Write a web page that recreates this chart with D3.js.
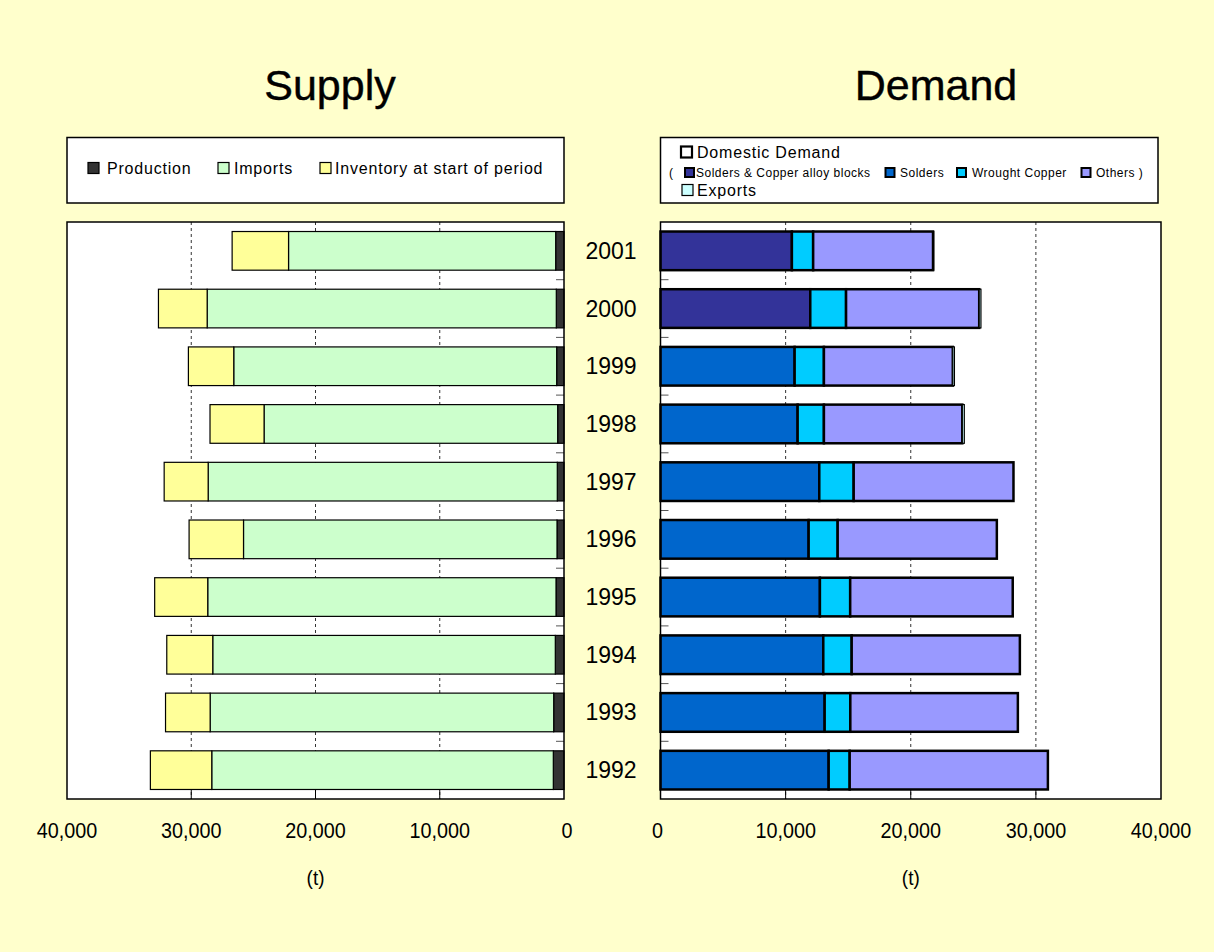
<!DOCTYPE html>
<html>
<head>
<meta charset="utf-8">
<script src="https://cdn.jsdelivr.net/npm/d3@7"></script>
<style>
  body { margin: 0; background: #FFFFCC; }
  svg { display: block; font-family: "Liberation Sans", Arial, sans-serif; }
</style>
</head>
<body>
<svg id="chart" width="1214" height="952"></svg>
<script>
// years, bottom to top
const years = [1992, 1993, 1994, 1995, 1996, 1997, 1998, 1999, 2000, 2001];

// Supply (t)
const production = [860, 830, 700, 644, 564, 540, 510, 590, 620, 670];
const imports    = [27490, 27650, 27570, 28030, 25230, 28100, 23630, 25990, 28100, 21500];
const inventory  = [4940, 3590, 3700, 4270, 4380, 3540, 4350, 3650, 3920, 4540];

// Demand (t)
const blocks  = [0, 0, 0, 0, 0, 0, 0, 0, 11970, 10500];
const solders = [13440, 13120, 13010, 12740, 11840, 12690, 10960, 10720, 0, 0];
const wrought = [1680, 2050, 2270, 2420, 2320, 2750, 2100, 2340, 2860, 1700];
const others  = [15840, 13390, 13440, 12990, 12720, 12770, 11060, 10300, 10640, 9580];
const exportsT = [0, 0, 0, 0, 0, 0, 160, 130, 140, 60];

const ticks = [0, 10000, 20000, 30000, 40000];

const supplyKeys = ["production", "imports", "inventory"];
const demandKeys = ["blocks", "solders", "wrought", "others", "exports"];
const colors = {
  production: "#333333", imports: "#CCFFCC", inventory: "#FFFF99",
  blocks: "#333399", solders: "#0066CC", wrought: "#00CCFF", others: "#9999FF", exports: "#CCFFFF"
};

const rows = years.map((y, i) => ({
  year: y,
  production: production[i], imports: imports[i], inventory: inventory[i],
  blocks: blocks[i], solders: solders[i], wrought: wrought[i], others: others[i], exports: exportsT[i]
}));

const svg = d3.select("#chart");
svg.append("rect").attr("width", 1214).attr("height", 952).attr("fill", "#FFFFCC");

const plotTop = 222, plotBottom = 799;
const y = d3.scaleBand().domain(years.slice().reverse()).range([plotTop, plotBottom]).paddingInner(0.33).paddingOuter(0.165);

const xL = d3.scaleLinear().domain([0, 40000]).range([564, 67]);
const xR = d3.scaleLinear().domain([0, 40000]).range([660.5, 1161]);

// condensed-looking text (like Arial Narrow)
function narrow(sel, x, yy, txt, size) {
  return sel.append("text")
    .attr("transform", `translate(${x},${yy}) scale(0.9,1)`)
    .attr("text-anchor", "middle").attr("font-size", size).text(txt);
}

function panel(x, keys, title, titleX, thick) {
  const g = svg.append("g");
  const [x0, x1] = [Math.min(...x.range()), Math.max(...x.range())];

  g.append("rect").attr("x", x0).attr("y", plotTop).attr("width", x1 - x0).attr("height", plotBottom - plotTop)
    .attr("fill", "#fff");

  // dashed grid
  g.selectAll("line.grid").data([10000, 20000, 30000]).join("line")
    .attr("x1", d => x(d)).attr("x2", d => x(d)).attr("y1", plotTop).attr("y2", plotBottom)
    .attr("stroke", "#333").attr("stroke-dasharray", "3,3");

  // bottom ticks (inward)
  g.selectAll("line.bt").data([10000, 20000, 30000]).join("line")
    .attr("x1", d => x(d)).attr("x2", d => x(d)).attr("y1", plotBottom - 9).attr("y2", plotBottom)
    .attr("stroke", "#000");

  // category ticks at band boundaries on the zero side
  const step = y.step();
  const bounds = d3.range(1, years.length).map(i => plotTop + i * step);
  const dir = x(10000) > x(0) ? 1 : -1;
  g.selectAll("line.ct").data(bounds).join("line")
    .attr("x1", x(0)).attr("x2", x(0) + dir * 8).attr("y1", d => d).attr("y2", d => d)
    .attr("stroke", "#555");

  const stacked = d3.stack().keys(keys)(rows);
  stacked.forEach(layer => {
    const k = layer.key;
    g.append("g").selectAll("rect").data(layer.filter(d => d[1] - d[0] > 0)).join("rect")
      .attr("x", d => Math.min(x(d[0]), x(d[1])))
      .attr("width", d => Math.abs(x(d[1]) - x(d[0])))
      .attr("y", d => y(d.data.year))
      .attr("height", y.bandwidth())
      .attr("fill", colors[k])
      .attr("stroke", "#000")
      .attr("stroke-width", thick && k !== "exports" ? 2.5 : 1.2);
  });

  g.append("rect").attr("x", x0).attr("y", plotTop).attr("width", x1 - x0).attr("height", plotBottom - plotTop)
    .attr("fill", "none").attr("stroke", "#000").attr("stroke-width", 1.5);

  ticks.forEach(d => narrow(g, d === 0 ? x(d) - 3 * dir : x(d), 838, d3.format(",")(d), 22));
  narrow(g, (x0 + x1) / 2, 885, "(t)", 21);

  svg.append("text").attr("x", titleX).attr("y", 100).attr("text-anchor", "middle")
    .attr("font-size", 43).attr("stroke", "#000").attr("stroke-width", 0.4).text(title);
}

panel(xL, supplyKeys, "Supply", 330, false);
panel(xR, demandKeys, "Demand", 936, true);

// year labels
svg.append("g").selectAll("text").data(years).join("text")
  .attr("x", 611).attr("y", d => y(d) + y.bandwidth() / 2 + 8)
  .attr("text-anchor", "middle").attr("font-size", 23)
  .text(d => d);

// legends
function box(x0, x1) {
  svg.append("rect").attr("x", x0).attr("y", 137.5).attr("width", x1 - x0).attr("height", 65.5)
    .attr("fill", "#fff").attr("stroke", "#000").attr("stroke-width", 1.5);
}
function swatch(x, cy, fill, size, sw) {
  svg.append("rect").attr("x", x).attr("y", cy - size / 2).attr("width", size).attr("height", size)
    .attr("fill", fill).attr("stroke", "#000").attr("stroke-width", sw);
}
function label(x, cy, txt, size, ls) {
  svg.append("text").attr("x", x).attr("y", cy + size * 0.36).attr("font-size", size)
    .attr("letter-spacing", ls).text(txt);
}

box(67, 564);
const supLegend = [
  { key: "production", sx: 88, tx: 107, text: "Production" },
  { key: "imports", sx: 218, tx: 234, text: "Imports" },
  { key: "inventory", sx: 320, tx: 335, text: "Inventory at start of period" }
];
supLegend.forEach(d => { swatch(d.sx, 168, colors[d.key], 11, 1.2); label(d.tx, 168, d.text, 16, 0.8); });

box(660.5, 1158);
swatch(681, 152, "#fff", 11, 2.2);
label(697, 152, "Domestic Demand", 16, 0.8);
label(669, 173, "(", 12, 0);
const demLegend = [
  { key: "blocks", sx: 685, tx: 696, text: "Solders & Copper alloy blocks" },
  { key: "solders", sx: 885.5, tx: 900, text: "Solders" },
  { key: "wrought", sx: 957, tx: 972, text: "Wrought Copper" },
  { key: "others", sx: 1081.5, tx: 1096, text: "Others )" }
];
demLegend.forEach(d => { swatch(d.sx, 172.5, colors[d.key], 9, 2); label(d.tx, 172.5, d.text, 12, 0.5); });
swatch(682, 190, colors.exports, 11, 1.2);
label(697, 190, "Exports", 16, 0.8);
</script>
</body>
</html>
